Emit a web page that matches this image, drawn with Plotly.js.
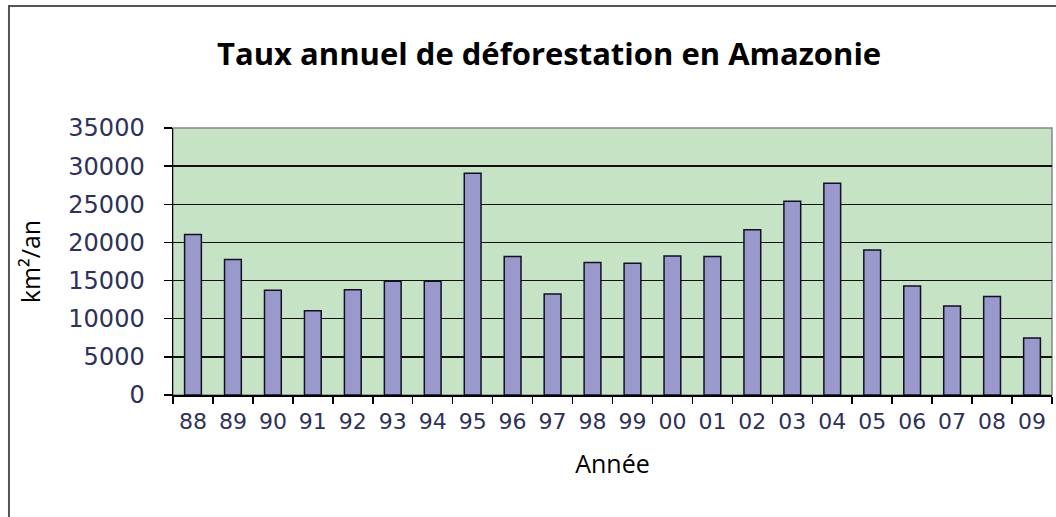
<!DOCTYPE html>
<html>
<head>
<meta charset="utf-8">
<script src="https://cdn.plot.ly/plotly-3.0.1.min.js"></script>
<style>html,body{margin:0;padding:0;background:#fff;}#chart{width:1056px;height:517px;}</style>
</head>
<body>
<div id="chart"></div>
<script>
const years = ["88","89","90","91","92","93","94","95","96","97","98","99","00","01","02","03","04","05","06","07","08","09"];
const deforestation = [21050,17770,13730,11030,13786,14896,14896,29059,18161,13227,17383,17259,18226,18165,21651,25396,27772,19014,14286,11651,12911,7464];
const yTicks = [0,5000,10000,15000,20000,25000,30000,35000];

const trace = {
  type: 'bar',
  x: years,
  y: deforestation,
  marker: {color: '#9999cc', line: {color: '#111122', width: 1.5}},
  hoverinfo: 'x+y'
};

const layout = {
  width: 1056, height: 517,
  margin: {l: 173, r: 4, t: 128, b: 122},
  paper_bgcolor: '#ffffff',
  plot_bgcolor: '#c6e3c6',
  bargap: 0.58,
  showlegend: false,
  title: {
    text: 'Taux annuel de déforestation en Amazonie',
    font: {family: 'Open Sans', size: 31, color: '#000', weight: 700},
    x: 0.52, xanchor: 'center', y: 0.895, yanchor: 'middle'
  },
  xaxis: {
    type: 'category',
    tickson: 'boundaries',
    ticks: 'outside', ticklen: 7, tickcolor: '#000', tickwidth: 1.5,
    ticklabelstandoff: 6,
    showline: true, linecolor: '#000', linewidth: 1.5,
    showgrid: false,
    tickfont: {family: 'DejaVu Sans', size: 22, color: '#2e3158'},
    title: {text: 'Année', font: {family: 'Open Sans', size: 25, color: '#000'}, standoff: 22},
    mirror: false
  },
  yaxis: {
    range: [0, 35000],
    tickvals: yTicks,
    ticktext: yTicks.map(String),
    ticks: 'outside', ticklen: 8, tickcolor: '#000', tickwidth: 1.5,
    ticklabelstandoff: 14,
    showline: true, linecolor: '#000', linewidth: 1.5,
    showgrid: true, gridcolor: '#111', gridwidth: 1.5,
    zeroline: false,
    tickfont: {family: 'DejaVu Sans', size: 24, color: '#2e3158'},
    title: {text: 'km²/an', font: {family: 'Open Sans', size: 25, color: '#000'}, standoff: 20}
  },
  shapes: [
    {type: 'rect', xref: 'paper', yref: 'paper', x0: 0, x1: 1, y0: 0, y1: 1,
     line: {color: '#888', width: 1.5}, fillcolor: 'rgba(0,0,0,0)', layer: 'below'},
    {type: 'rect', xref: 'paper', yref: 'paper', x0: -0.1866, x1: 1.2, y0: -1, y1: 1.457,
     line: {color: '#555', width: 2}, fillcolor: 'rgba(0,0,0,0)'}
  ]
};

Plotly.newPlot('chart', [trace], layout, {displayModeBar: false, staticPlot: true});
</script>
</body>
</html>
